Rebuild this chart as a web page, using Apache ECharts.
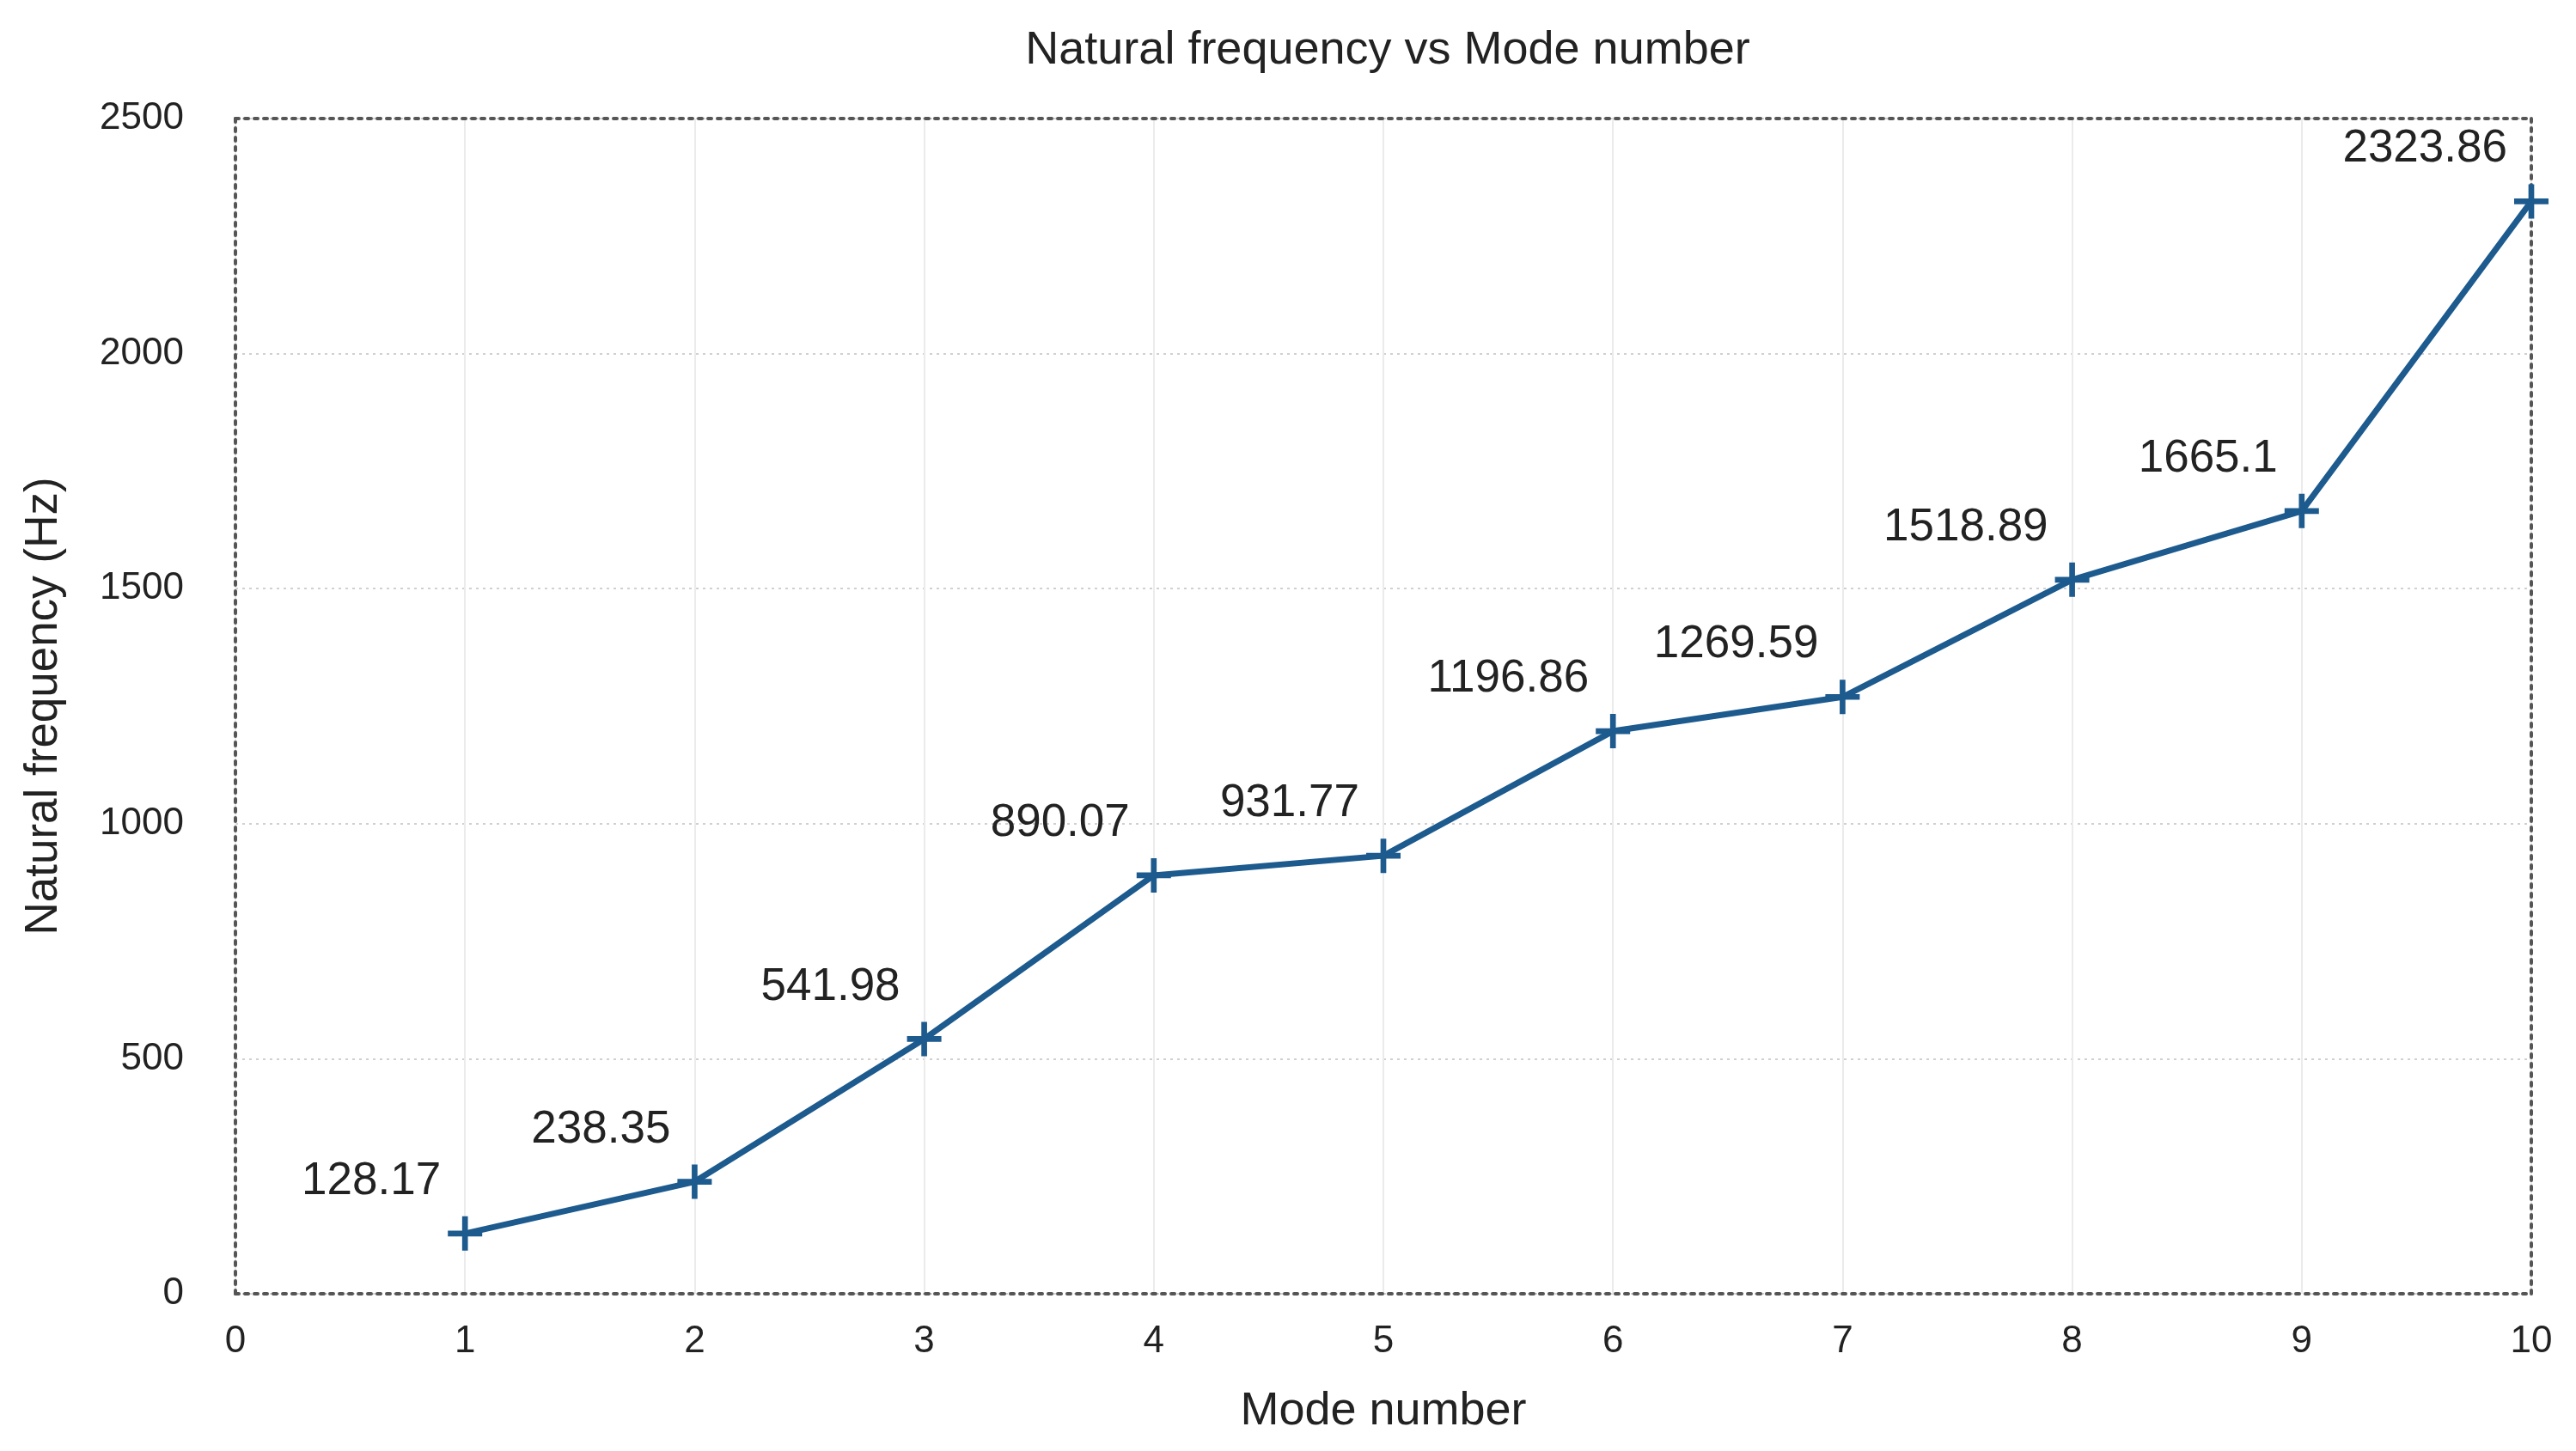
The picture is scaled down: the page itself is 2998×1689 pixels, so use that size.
<!DOCTYPE html>
<html>
<head>
<meta charset="UTF-8">
<title>Natural frequency vs Mode number</title>
<script src="https://cdn.jsdelivr.net/npm/echarts@6/dist/echarts.min.js"></script>
<style type="text/css">
html, body {
	width: 100%;
	height: 100%;
	padding: 0px;
	margin: 0px;
	background: #fff;
}
</style>
</head>
<body>
	<div id="chart" style="width: 100%; height: 100%;"></div>

	<script type="text/javascript">
        // data
        var modes = [1, 2, 3, 4, 5, 6, 7, 8, 9, 10];
        var freqs = [128.17, 238.35, 541.98, 890.07, 931.77, 1196.86, 1269.59, 1518.89, 1665.1, 2323.86];
        var xTicks = [0, 1, 2, 3, 4, 5, 6, 7, 8, 9, 10];
        var yTicks = [0, 500, 1000, 1500, 2000, 2500];

        var FONT = '"Liberation Sans", Arial, Helvetica, sans-serif';
        var LINE = '#1d5a8e';
        var plus = 'path://M5,0h2v5h5v2h-5v5h-2v-5h-5v-2h5z';

        var points = modes.map(function (m, i) { return [m, freqs[i]]; });

        // dotted box around the plot
        var boxLine = { show: true, onZero: false, lineStyle: { color: '#555', width: 4, type: [4, 7] } };

        var myChart = echarts.init(document.getElementById('chart'));
        myChart.setOption({
            animation: false,
            backgroundColor: '#fff',
            textStyle: { fontFamily: FONT },
            title: {
                text: 'Natural frequency vs Mode number',
                left: 1610,
                top: 27,
                textAlign: 'center',
                textStyle: { fontFamily: FONT, fontSize: 54, fontWeight: 'normal', color: '#222' }
            },
            grid: { left: 274, right: 52, top: 138, bottom: 183 },
            xAxis: [{
                type: 'value',
                min: xTicks[0],
                max: xTicks[xTicks.length - 1],
                interval: 1,
                name: 'Mode number',
                nameLocation: 'middle',
                nameGap: 110,
                nameTextStyle: { fontSize: 54, color: '#222' },
                axisLine: boxLine,
                axisTick: { show: false },
                axisLabel: { fontSize: 44, color: '#222', margin: 34 },
                splitLine: { show: true, lineStyle: { color: '#ebebeb', width: 2 } }
            }, {
                type: 'value',
                position: 'top',
                min: 0, max: 10, interval: 1,
                axisLine: boxLine,
                axisTick: { show: false },
                axisLabel: { show: false },
                splitLine: { show: false }
            }],
            yAxis: [{
                type: 'value',
                min: yTicks[0],
                max: yTicks[yTicks.length - 1],
                interval: 500,
                name: 'Natural frequency (Hz)',
                nameLocation: 'middle',
                nameGap: 196,
                nameTextStyle: { fontSize: 53, color: '#222' },
                axisLine: boxLine,
                axisTick: { show: false },
                axisLabel: {
                    fontSize: 44, color: '#222', margin: 60,
                    formatter: function (v) { return String(v); }
                },
                splitLine: { show: true, lineStyle: { color: '#d0d0d0', width: 2, type: [3, 5] } }
            }, {
                type: 'value',
                position: 'right',
                min: 0, max: 2500, interval: 500,
                axisLine: boxLine,
                axisTick: { show: false },
                axisLabel: { show: false },
                splitLine: { show: false }
            }],
            series: [{
                type: 'line',
                data: points,
                symbol: plus,
                symbolSize: 40,
                showAllSymbol: true,
                lineStyle: { color: LINE, width: 7 },
                itemStyle: { color: LINE },
                label: {
                    show: true,
                    position: 'top',
                    align: 'right',
                    distance: 14,
                    offset: [-28, 0],
                    fontSize: 53,
                    color: '#222',
                    formatter: function (p) { return String(p.value[1]); }
                },
                z: 5
            }]
        });
	</script>
</body>
</html>
